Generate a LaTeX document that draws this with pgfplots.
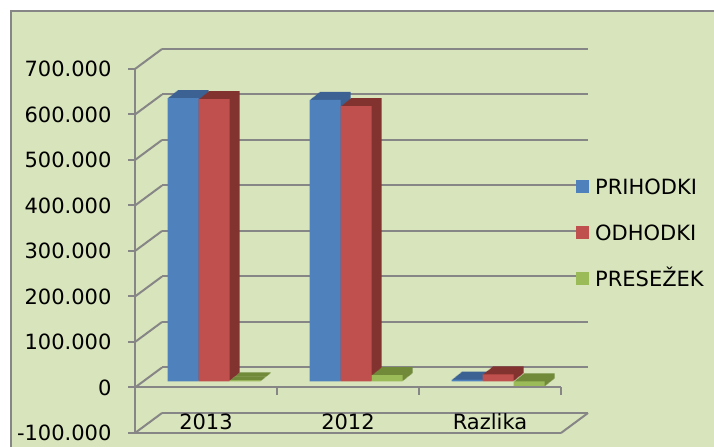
\documentclass[border=0pt]{standalone}
\usepackage{pgfplots}
\pgfplotsset{compat=1.18}
\usepackage{pgfplotstable}
\usepackage{fontspec}
\setmainfont{DejaVu Sans}
\definecolor{bg}{HTML}{D8E4BC}
\definecolor{gridc}{HTML}{868686}
\definecolor{c1}{HTML}{4F81BD}
\definecolor{c2}{HTML}{C0504D}
\definecolor{c3}{HTML}{9BBB59}
\definecolor{d1}{HTML}{3B6292}
\definecolor{d2}{HTML}{82332F}
\definecolor{d3}{HTML}{718A3A}

\pgfplotstableread{
x val
0 623000
1 619000
2 4000
}\prihodki
\pgfplotstableread{
x val
0 620500
1 605000
2 15500
}\odhodki
\pgfplotstableread{
x val
0 2500
1 14000
2 -11500
}\presezek

\newcommand{\lfont}{\fontsize{21bp}{25bp}\selectfont}

\begin{document}
\begin{tikzpicture}[x=1bp,y=1bp]
\useasboundingbox (0,0) rectangle (714,447);
\fill[white] (0,0) rectangle (714,447);
\fill[bg] (12,0) rectangle (714,435);
\draw[gridc, line width=2bp] (11,-2) -- (11,436) -- (716,436);

% back wall grid
\begin{axis}[at={(162bp,34bp)}, anchor=south west, scale only axis,
  width=426bp, height=364bp, xmin=-0.5, xmax=2.5, ymin=-100000, ymax=700000,
  scaled y ticks=false,
  axis line style={draw=none}, xtick=\empty,
  ytick={-100000,0,...,700000}, yticklabels={}, major tick length=0pt,
  ymajorgrids, grid style={gridc, line width=2bp}]
\end{axis}

% diagonal connectors
\foreach \kk in {0,...,8} \draw[gridc, line width=2bp] (135,14+\kk*45.5) -- (162,34+\kk*45.5);
\draw[gridc, line width=2bp] (561,14) -- (588,34);

% bars
\begin{axis}[at={(143bp,20bp)}, anchor=south west, scale only axis,
  width=426bp, height=364bp, xmin=-0.5, xmax=2.5, ymin=-100000, ymax=700000,
  hide axis, clip=false,
  legend style={at={(1.0164,0.533)}, anchor=west, draw=none, fill=none,
    inner sep=0pt, row sep=31bp, font=\lfont,
    nodes={inner sep=0pt, text height=15bp, text depth=0bp},
    /tikz/every odd column/.style={column sep=6bp}},
  legend cell align=left,
  legend image code/.code={\fill[#1] (0bp,-6bp) rectangle (13bp,7bp);}]
\pgfplotsinvokeforeach{1,...,10}{
  \addplot[ybar, bar width=31bp, bar shift=-31bp, fill=d1, draw=none, forget plot, xshift=#1bp, yshift=0.8*#1bp] table[x=x,y=val]{\prihodki};
}
\addplot[ybar, bar width=31bp, bar shift=-31bp, fill=c1, draw=none] table[x=x,y=val]{\prihodki};
\addlegendentry{PRIHODKI}
\pgfplotsinvokeforeach{1,...,10}{
  \addplot[ybar, bar width=31bp, bar shift=0bp, fill=d2, draw=none, forget plot, xshift=#1bp, yshift=0.8*#1bp] table[x=x,y=val]{\odhodki};
}
\addplot[ybar, bar width=31bp, bar shift=0bp, fill=c2, draw=none] table[x=x,y=val]{\odhodki};
\addlegendentry{ODHODKI}
\pgfplotsinvokeforeach{1,...,10}{
  \addplot[ybar, bar width=31bp, bar shift=31bp, fill=d3, draw=none, forget plot, xshift=#1bp, yshift=0.8*#1bp] table[x=x,y=val]{\presezek};
}
\addplot[ybar, bar width=31bp, bar shift=31bp, fill=c3, draw=none] table[x=x,y=val]{\presezek};
\addlegendentry{PRESEŽEK}
\end{axis}

% front axis
\begin{axis}[at={(135bp,14bp)}, anchor=south west, scale only axis,
  width=426bp, height=364bp, xmin=-0.5, xmax=2.5, ymin=-100000, ymax=700000,
  scaled y ticks=false,
  axis x line*=bottom, axis y line*=left,
  axis line style={gridc, line width=2bp, -},
  ytick={-100000,0,...,700000},
  yticklabels={-100.000,0,100.000,200.000,300.000,400.000,500.000,600.000,700.000},
  xtick={0,1,2}, xticklabels={2013,2012,Razlika},
  x tick style={draw=none}, y tick style={gridc, line width=2bp},
  tick align=outside, major tick length=7bp,
  tick label style={font=\lfont, text=black},
  yticklabel style={xshift=-13bp},
  xticklabel style={anchor=base, yshift=10bp},
  clip=false]
\draw[gridc, line width=2bp] (axis cs:-0.5,0) -- (axis cs:2.5,0);
\pgfplotsinvokeforeach{0.5,1.5,2.5}{\draw[gridc, line width=2bp] (axis cs:#1,0) -- ([yshift=-8bp]axis cs:#1,0);}
\end{axis}
\end{tikzpicture}
\end{document}
